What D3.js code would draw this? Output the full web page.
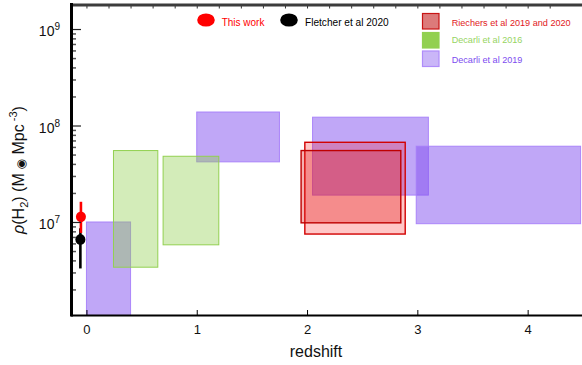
<!DOCTYPE html>
<html><head><meta charset="utf-8">
<script src="https://cdn.jsdelivr.net/npm/d3@7"></script>
<style>
body{margin:0;background:#fff}
svg{display:block;font-family:"Liberation Sans",Arial,Helvetica,sans-serif}
</style>
</head><body>
<svg id="c" width="582" height="365"></svg>
<script>
// ---- data ----
const xTicks = [0, 1, 2, 3, 4];
const yDecades = [7, 8, 9];
// [z_low, z_high, rho_low, rho_high]
const decarli2019 = [[0.00, 0.40, 5e5, 1.0e7], [1.00, 1.75, 4.2e7, 1.38e8], [2.05, 3.10, 1.9e7, 1.22e8], [2.99, 4.48, 9.6e6, 6.1e7]];
const decarli2016 = [[0.245, 0.647, 3.4e6, 5.5e7], [0.695, 1.20, 5.8e6, 4.8e7]];
const riechers = [[1.98, 2.89, 7.5e6, 6.7e7], [1.946, 2.85, 9.8e6, 5.5e7]];
// [z, rho, rho_low, rho_high]
const fletcher = [[-0.055, 6.6e6, 3.3e6, 8.6e6]];
const thisWork = [[-0.05, 1.13e7, 7.7e6, 1.62e7]];
const legendPointLabels = ["This work", "Fletcher et al 2020"];
const legendBoxLabels = ["Riechers et al 2019 and 2020", "Decarli et al 2016", "Decarli et al 2019"];

// ---- layout ----
const L = 71, R = 582, T = 5, B = 315;
const svg = d3.select("#c");
const x = d3.scaleLinear().domain([-0.14, 4.5]).range([L, L + 4.64 * 110.3]);
const y = d3.scaleLog().domain([Math.pow(10, 6.036), Math.pow(10, 9.249)]).range([B, T]);

svg.append("defs").append("clipPath").attr("id", "clip")
  .append("rect").attr("x", L).attr("y", T).attr("width", R - L).attr("height", B - T);
const plot = svg.append("g").attr("clip-path", "url(#clip)");

function boxes(data, fill, op, stroke, sw) {
  plot.append("g").selectAll("rect").data(data).join("rect")
    .attr("x", d => x(d[0])).attr("width", d => x(d[1]) - x(d[0]))
    .attr("y", d => y(d[3])).attr("height", d => y(d[2]) - y(d[3]))
    .attr("fill", fill).attr("fill-opacity", op)
    .attr("stroke", stroke).attr("stroke-width", sw);
}
boxes(decarli2019, "rgb(130,80,240)", 0.5, "rgba(165,125,250,0.9)", 1);
boxes(decarli2016, "rgb(146,208,80)", 0.4, "rgb(146,208,80)", 1);
boxes(riechers.slice(0, 1), "rgb(255,0,0)", 0.22, "rgb(210,0,0)", 1.4);
boxes(riechers.slice(1), "rgb(225,25,25)", 0.34, "rgb(190,0,0)", 1.4);

function errbars(data, color) {
  plot.append("g").selectAll("line").data(data).join("line")
    .attr("x1", d => x(d[0])).attr("x2", d => x(d[0]))
    .attr("y1", d => y(d[2])).attr("y2", d => y(d[3]))
    .attr("stroke", color).attr("stroke-width", 2.6);
}
function dots(data, color) {
  plot.append("g").selectAll("ellipse").data(data).join("ellipse")
    .attr("cx", d => x(d[0])).attr("cy", d => y(d[1]))
    .attr("rx", 5).attr("ry", 5.3).attr("fill", color);
}
errbars(fletcher, "#000");
errbars(thisWork, "#ff0000");
dots(thisWork, "#ff0000");
dots(fletcher, "#000");

// ---- axes ----
svg.append("line").attr("x1", L).attr("x2", R).attr("y1", T).attr("y2", T)
  .attr("stroke", "#3c3c3c").attr("stroke-width", 3);
const topAx = svg.append("g").attr("transform", `translate(0,${T + 1})`)
  .call(d3.axisBottom(x).tickValues(d3.range(0, 22).map(i => i * 0.2)).tickSize(2.5).tickFormat(""));
topAx.select(".domain").remove();
topAx.selectAll("line").attr("stroke", "#333").attr("stroke-width", 1);

const botAx = svg.append("g").attr("transform", `translate(0,${B})`)
  .call(d3.axisBottom(x).tickValues(xTicks).tickSizeInner(-5).tickSizeOuter(0).tickPadding(10).tickFormat(d3.format("d")));
botAx.select(".domain").remove();
botAx.selectAll("line").attr("stroke", "#000").attr("stroke-width", 1);
botAx.selectAll("text").attr("font-size", 13).attr("fill", "#111").attr("font-family", "Liberation Sans, Arial, sans-serif");
svg.append("line").attr("x1", L).attr("x2", R).attr("y1", B + 0.5).attr("y2", B + 0.5)
  .attr("stroke", "#000").attr("stroke-width", 2);

const minorVals = [];
for (let k = 6; k <= 9; k++) for (let i = 2; i <= 9; i++) {
  const v = i * Math.pow(10, k);
  if (v > y.domain()[0] && v < y.domain()[1]) minorVals.push(v);
}
const minAx = svg.append("g").attr("transform", `translate(${L + 1},0)`)
  .call(d3.axisRight(y).tickValues(minorVals).tickSize(4).tickFormat(""));
minAx.select(".domain").remove();
minAx.selectAll("line").attr("stroke", "#555").attr("stroke-width", 1.5);
const majAx = svg.append("g").attr("transform", `translate(${L + 1},0)`)
  .call(d3.axisRight(y).tickValues(yDecades.map(e => Math.pow(10, e))).tickSize(9).tickFormat(""));
majAx.select(".domain").remove();
majAx.selectAll("line").attr("stroke", "#222").attr("stroke-width", 1.2);
svg.append("line").attr("x1", L + 0.5).attr("x2", L + 0.5).attr("y1", T - 2).attr("y2", B + 1.5)
  .attr("stroke", "#000").attr("stroke-width", 3);

const ylab = svg.append("g").selectAll("text").data(yDecades).join("text")
  .attr("x", 60).attr("y", d => y(Math.pow(10, d)) + 7)
  .attr("text-anchor", "end").attr("font-size", 14).attr("fill", "#111");
ylab.append("tspan").text("10");
ylab.append("tspan").attr("font-size", 10).attr("dy", -6).text(d => d);

svg.append("text").attr("x", 316).attr("y", 357).attr("text-anchor", "middle")
  .attr("font-size", 16).attr("fill", "#111").text("redshift");
const yt = svg.append("text").attr("transform", "translate(24,170) rotate(-90)")
  .attr("text-anchor", "middle").attr("font-size", 16).attr("fill", "#111");
yt.append("tspan").attr("font-style", "italic").text("ρ");
yt.append("tspan").text("(H");
yt.append("tspan").attr("font-size", 11).attr("dy", 4).text("2");
yt.append("tspan").attr("dy", -4).text(") (M");
yt.append("tspan").attr("font-size", 12).attr("dy", 1).attr("font-family", "DejaVu Sans").text(" ◉");
yt.append("tspan").attr("dy", -1).text(" Mpc");
yt.append("tspan").attr("font-size", 11).attr("dy", -7).text(" -3");
yt.append("tspan").attr("dy", 7).text(")");

// ---- legend ----
const lp = svg.append("g");
const ptColors = ["#ff0000", "#000000"];
const ptX = [206, 289], ptTextX = [221.7, 305], ptW = [42.7, 83.7];
lp.selectAll("ellipse").data(legendPointLabels).join("ellipse")
  .attr("cx", (d, i) => ptX[i]).attr("cy", 20).attr("rx", 8.8).attr("ry", 6.6)
  .attr("fill", (d, i) => ptColors[i]);
lp.selectAll("text").data(legendPointLabels).join("text")
  .attr("x", (d, i) => ptTextX[i]).attr("y", 25.5).attr("font-size", 11)
  .attr("textLength", (d, i) => ptW[i]).attr("lengthAdjust", "spacingAndGlyphs")
  .attr("fill", (d, i) => ptColors[i]).text(d => d);

const lb = svg.append("g");
const bFill = ["rgb(220,122,122)", "rgb(146,208,80)", "rgb(202,182,248)"];
const bStroke = ["rgb(200,20,20)", "rgb(146,208,80)", "rgb(175,140,250)"];
const bText = ["rgb(225,25,35)", "rgb(150,212,95)", "rgb(125,75,240)"];
const bY = [13.5, 32.5, 51], bBase = [25.5, 42.5, 62.5], bW = [119, 70.7, 70.7];
lb.selectAll("rect").data(legendBoxLabels).join("rect")
  .attr("x", 422.5).attr("y", (d, i) => bY[i]).attr("width", 16.5).attr("height", 15.5)
  .attr("fill", (d, i) => bFill[i]).attr("stroke", (d, i) => bStroke[i]).attr("stroke-width", 1.2);
lb.selectAll("text").data(legendBoxLabels).join("text")
  .attr("x", 451.7).attr("y", (d, i) => bBase[i]).attr("font-size", 9.6)
  .attr("textLength", (d, i) => bW[i]).attr("lengthAdjust", "spacingAndGlyphs")
  .attr("fill", (d, i) => bText[i]).text(d => d);
</script>
</body></html>
